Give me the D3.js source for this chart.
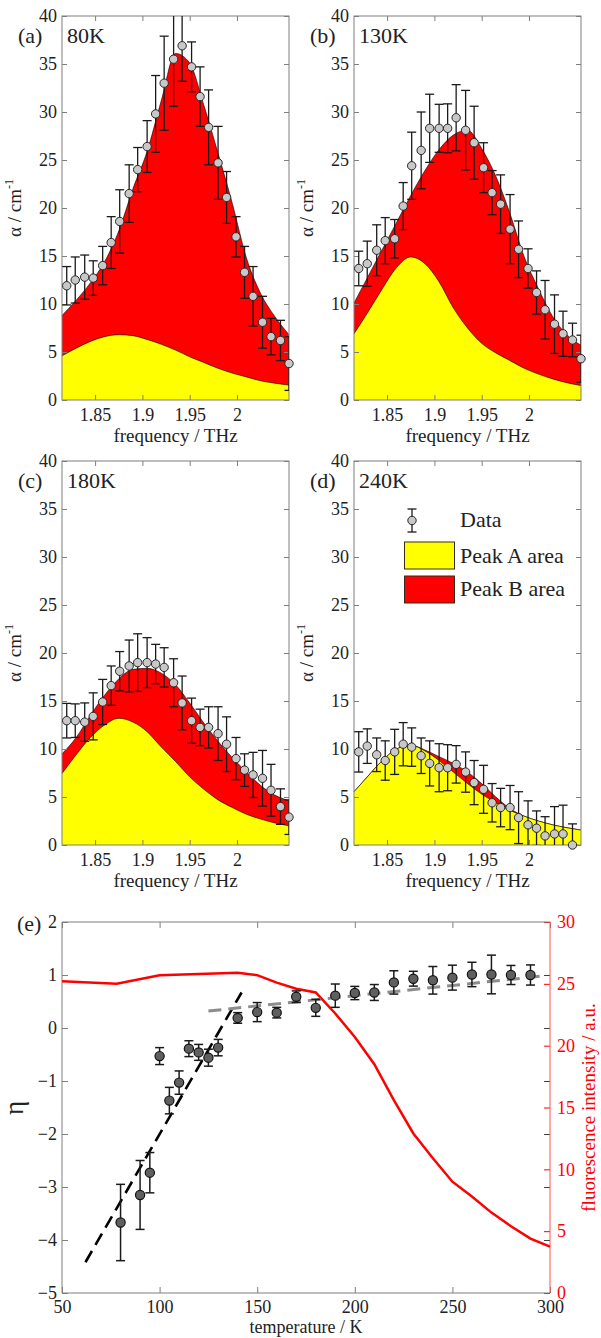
<!DOCTYPE html>
<html>
<head>
<meta charset="utf-8">
<script src="https://cdn.jsdelivr.net/npm/d3@7"></script>
<style>
  body { margin: 0; background: #fff; }
</style>
</head>
<body>
<svg id="chart" width="601" height="1338"></svg>
<script>
var FONT = '"Liberation Serif", "Times New Roman", serif';

// frequency grid of the measured points and of the fitted curves (THz)
var freq = [1.820, 1.829, 1.839, 1.848, 1.858, 1.867, 1.876, 1.886, 1.895, 1.905, 1.914, 1.923, 1.933,
            1.942, 1.952, 1.961, 1.970, 1.980, 1.989, 1.999, 2.008, 2.017, 2.027, 2.036, 2.046, 2.055];
var fitFreq = [1.815, 1.830, 1.845, 1.860, 1.875, 1.890, 1.905, 1.920, 1.935, 1.950, 1.965, 1.980,
               1.995, 2.010, 2.025, 2.040, 2.055];
var freqTicks = [1.85, 1.9, 1.95, 2];

// 80K
var alpha80 = [11.9, 12.5, 12.8, 12.7, 14.0, 16.4, 18.6, 21.5, 24.0, 26.4, 29.8, 33.0, 35.5,
               36.9, 34.7, 31.6, 28.4, 24.7, 21.1, 17.0, 13.3, 10.8, 8.1, 6.6, 6.2, 3.8];
var err80 = [2.0, 2.4, 2.3, 1.8, 2.0, 2.7, 3.3, 3.0, 2.3, 2.7, 4.0, 4.9, 4.9,
             3.7, 2.6, 3.1, 3.9, 3.8, 2.7, 2.1, 2.7, 3.1, 2.7, 1.9, 2.1, 2.8];
var total80 = [8.8, 10.4, 12.2, 14.4, 17.6, 22.0, 25.9, 31.2, 36.1, 35.1, 30.7, 25.7, 20.5, 14.8, 11.1, 8.7, 6.8];
var peakA80 = [4.6, 5.4, 6.1, 6.6, 6.8, 6.7, 6.3, 5.8, 5.2, 4.5, 3.9, 3.3, 2.8, 2.4, 2.0, 1.75, 1.55];

// 130K
var alpha130 = [13.7, 14.2, 15.6, 16.6, 16.8, 20.2, 24.4, 26.0, 28.3, 28.3, 28.3, 29.4, 28.1,
                26.8, 24.2, 21.6, 20.4, 17.8, 15.7, 13.7, 11.2, 9.4, 7.9, 6.9, 6.25, 4.3];
var err130 = [1.8, 2.35, 2.65, 2.4, 2.0, 2.45, 3.5, 4.0, 3.55, 2.5, 2.55, 3.45, 4.15,
              3.8, 2.6, 2.3, 3.05, 3.6, 2.95, 2.05, 2.25, 3.05, 3.05, 2.35, 1.75, 2.45];
var total130 = [10.1, 12.9, 15.7, 18.5, 21.3, 23.9, 26.1, 27.6, 28.1, 26.2, 23.3, 19.4, 14.9, 11.6, 8.7, 6.8, 5.7];
var peakA130 = [6.9, 9.2, 11.6, 13.8, 14.9, 14.2, 12.3, 9.6, 7.5, 5.9, 4.9, 4.1, 3.3, 2.7, 2.2, 1.8, 1.5];

// 180K
var alpha180 = [12.95, 12.95, 12.8, 13.4, 14.9, 16.6, 18.1, 18.65, 19.0, 19.0, 18.85, 18.5, 16.9,
                14.8, 12.95, 12.25, 12.25, 11.6, 10.5, 9.0, 7.8, 7.3, 6.95, 5.7, 4.0, 2.9];
var err180 = [1.8, 1.75, 2.0, 2.45, 2.35, 2.05, 2.05, 2.7, 3.0, 2.6, 2.05, 2.05, 2.5,
              2.8, 2.35, 1.9, 2.15, 2.8, 2.85, 2.2, 1.7, 2.35, 2.9, 2.7, 1.85, 1.8];
var total180 = [9.5, 11.2, 13.5, 15.6, 17.3, 18.3, 18.4, 17.9, 16.7, 14.8, 12.7, 10.8, 9.1, 7.6, 6.2, 5.2, 4.6];
var peakA180 = [7.45, 9.4, 11.2, 12.5, 13.2, 12.8, 11.8, 10.2, 8.7, 7.1, 5.8, 4.7, 3.9, 3.2, 2.7, 2.3, 2.0];

// 240K (no point at the last frequency)
var alpha240 = [9.7, 10.3, 9.4, 8.8, 9.7, 10.5, 10.2, 9.3, 8.5, 8.05, 8.05, 8.4, 7.6,
                6.5, 5.8, 4.4, 3.9, 3.9, 2.85, 2.1, 1.75, 0.95, 1.15, 1.15, 0.0];
var err240 = [2.1, 1.8, 1.75, 2.05, 2.35, 2.25, 2.0, 1.85, 2.35, 2.5, 2.4, 1.95, 2.1,
              2.3, 2.5, 2.0, 2.0, 2.3, 2.7, 2.5, 1.8, 2.0, 2.85, 3.0, 2.2];
var total240 = [5.55, 7.2, 8.8, 10.0, 10.4, 9.9, 9.2, 8.5, 7.6, 6.4, 5.0, 3.8, 3.0, 2.5, 2.1, 1.8, 1.55];
var peakA240 = [5.55, 7.2, 8.8, 10.0, 10.4, 9.8, 8.8, 7.6, 6.4, 5.3, 4.4, 3.6, 3.0, 2.5, 2.1, 1.8, 1.55];

// panel (e)
var tempEta = [80, 90, 95, 100, 105, 110, 115, 120, 125, 130, 140, 150, 160,
               170, 180, 190, 200, 210, 220, 230, 240, 250, 260, 270, 280, 290];
var eta = [-3.67, -3.15, -2.73, -0.53, -1.37, -1.03, -0.39, -0.46, -0.56, -0.37, 0.19, 0.30, 0.29,
           0.59, 0.38, 0.61, 0.66, 0.67, 0.86, 0.93, 0.90, 0.95, 1.01, 1.01, 1.00, 1.00];
var etaErr = [0.72, 0.65, 0.38, 0.16, 0.25, 0.22, 0.15, 0.15, 0.16, 0.155, 0.10, 0.18, 0.10,
              0.11, 0.16, 0.22, 0.125, 0.15, 0.22, 0.14, 0.26, 0.235, 0.23, 0.365, 0.18, 0.19];
var fluorTemp = [50, 78, 100, 140, 150, 160, 170, 180, 190, 200, 210, 220, 230, 240, 250, 260, 270, 280, 290, 300];
var fluor = [25.2, 25.0, 25.7, 25.9, 25.7, 25.1, 24.6, 24.3, 22.6, 20.7, 18.5, 15.6, 12.9, 10.9, 9.0, 7.8, 6.5, 5.4, 4.4, 3.75];
var fitLowT = [[62, -4.42], [142, 0.67]];
var fitHighT = [[125, 0.32], [296, 0.98]];

var svg = d3.select("#chart");

function styleAxis(g, color, textColor) {
    g.attr("font-family", FONT).attr("font-size", 18);
    g.select(".domain").remove();
    g.selectAll(".tick line").attr("stroke", color || "#7f7f7f");
    g.selectAll(".tick text").attr("fill", textColor || "#222");
}

function spectrum(box, d) {
    var x = d3.scaleLinear().domain([1.815, 2.055]).range([box.x0, box.x1]);
    var y = d3.scaleLinear().domain([0, 40]).range([box.y1, box.y0]);
    var g = svg.append("g");

    g.append("clipPath").attr("id", "clip" + d.tag)
        .append("rect").attr("x", box.x0).attr("y", box.y0)
        .attr("width", box.x1 - box.x0).attr("height", box.y1 - box.y0);

    var area = d3.area().x(function (v, i) { return x(fitFreq[i]); })
        .y0(y(0)).y1(function (v) { return y(v); }).curve(d3.curveMonotoneX);
    var line = d3.line().x(function (v, i) { return x(fitFreq[i]); })
        .y(function (v) { return y(v); }).curve(d3.curveMonotoneX);

    g.append("path").datum(d.total).attr("d", area).attr("fill", "#ff0000");
    g.append("path").datum(d.total).attr("d", line).attr("fill", "none")
        .attr("stroke", "#000").attr("stroke-width", 0.6);
    g.append("path").datum(d.peakA).attr("d", area).attr("fill", "#ffff00");
    g.append("path").datum(d.peakA).attr("d", line).attr("fill", "none")
        .attr("stroke", "#000").attr("stroke-width", 0.6);

    // axes with inward ticks on all four sides
    var ticksY = d3.range(0, 41, 5);
    g.append("g").attr("transform", "translate(" + box.x0 + ",0)")
        .call(d3.axisLeft(y).tickValues(ticksY).tickSize(-5).tickPadding(5))
        .call(styleAxis);
    g.append("g").attr("transform", "translate(" + box.x1 + ",0)")
        .call(d3.axisRight(y).tickValues(ticksY).tickSize(-5).tickFormat(""))
        .call(styleAxis);
    g.append("g").attr("transform", "translate(0," + box.y1 + ")")
        .call(d3.axisBottom(x).tickValues(freqTicks).tickSize(-5).tickPadding(8)
              .tickFormat(d3.format("")))
        .call(styleAxis);
    g.append("g").attr("transform", "translate(0," + box.y0 + ")")
        .call(d3.axisTop(x).tickValues(freqTicks).tickSize(-5).tickFormat(""))
        .call(styleAxis);
    g.append("rect").attr("x", box.x0).attr("y", box.y0)
        .attr("width", box.x1 - box.x0).attr("height", box.y1 - box.y0)
        .attr("fill", "none").attr("stroke", "#7f7f7f").attr("stroke-width", 1);

    // error bars
    var pts = d.alpha.map(function (v, i) { return {f: freq[i], v: v, e: d.err[i]}; });
    var eb = g.append("g").attr("clip-path", "url(#clip" + d.tag + ")")
        .attr("stroke", "#1a1a1a").attr("stroke-width", 1.3);
    eb.selectAll(".bar").data(pts).enter().append("line")
        .attr("x1", function (p) { return x(p.f); }).attr("x2", function (p) { return x(p.f); })
        .attr("y1", function (p) { return y(p.v - p.e); }).attr("y2", function (p) { return y(p.v + p.e); });
    ["lo", "hi"].forEach(function (side) {
        eb.selectAll(".cap" + side).data(pts).enter().append("line")
            .attr("x1", function (p) { return x(p.f) - 4.5; }).attr("x2", function (p) { return x(p.f) + 4.5; })
            .attr("y1", function (p) { return y(side === "lo" ? p.v - p.e : p.v + p.e); })
            .attr("y2", function (p) { return y(side === "lo" ? p.v - p.e : p.v + p.e); });
    });
    g.selectAll(".pt").data(pts).enter().append("circle")
        .attr("cx", function (p) { return x(p.f); }).attr("cy", function (p) { return y(p.v); })
        .attr("r", 4.2).attr("fill", "#c8c8c8").attr("stroke", "#262626").attr("stroke-width", 1);

    // labels
    g.append("text").attr("x", box.x0 - 44).attr("y", box.y0 + 27)
        .attr("font-family", FONT).attr("font-size", 22).attr("fill", "#222").text("(" + d.tag + ")");
    g.append("text").attr("x", box.x0 + 5).attr("y", box.y0 + 27)
        .attr("font-family", FONT).attr("font-size", 22).attr("fill", "#222").text(d.temp);
    g.append("text").attr("x", (box.x0 + box.x1) / 2).attr("y", box.y1 + 42)
        .attr("text-anchor", "middle").attr("font-family", FONT).attr("font-size", 19)
        .attr("fill", "#222").text("frequency / THz");
    var yl = g.append("text")
        .attr("transform", "translate(" + (box.x0 - 41) + "," + ((box.y0 + box.y1) / 2) + ") rotate(-90)")
        .attr("text-anchor", "middle").attr("font-family", FONT).attr("font-size", 19).attr("fill", "#222");
    yl.append("tspan").text("α / cm");
    yl.append("tspan").attr("font-size", 12).attr("dy", -8).text("-1");
}

spectrum({x0: 62, x1: 289, y0: 16, y1: 400},
         {tag: "a", temp: "80K", alpha: alpha80, err: err80, total: total80, peakA: peakA80});
spectrum({x0: 354, x1: 581, y0: 16, y1: 400},
         {tag: "b", temp: "130K", alpha: alpha130, err: err130, total: total130, peakA: peakA130});
spectrum({x0: 62, x1: 289, y0: 461, y1: 845},
         {tag: "c", temp: "180K", alpha: alpha180, err: err180, total: total180, peakA: peakA180});
spectrum({x0: 354, x1: 581, y0: 461, y1: 845},
         {tag: "d", temp: "240K", alpha: alpha240, err: err240, total: total240, peakA: peakA240});

// legend in panel (d)
var leg = svg.append("g").attr("font-family", FONT).attr("font-size", 22).attr("fill", "#222");
leg.append("line").attr("x1", 412).attr("x2", 412).attr("y1", 509).attr("y2", 532)
    .attr("stroke", "#1a1a1a").attr("stroke-width", 1.3);
[509, 532].forEach(function (yy) {
    leg.append("line").attr("x1", 407.5).attr("x2", 416.5).attr("y1", yy).attr("y2", yy)
        .attr("stroke", "#1a1a1a").attr("stroke-width", 1.3);
});
leg.append("circle").attr("cx", 412).attr("cy", 520.5).attr("r", 4.2)
    .attr("fill", "#c8c8c8").attr("stroke", "#262626");
leg.append("rect").attr("x", 404.5).attr("y", 542).attr("width", 50).attr("height", 27)
    .attr("fill", "#ffff00").attr("stroke", "#3a2a1a");
leg.append("rect").attr("x", 404.5).attr("y", 576).attr("width", 50).attr("height", 27)
    .attr("fill", "#ff0000").attr("stroke", "#3a2a1a");
leg.append("text").attr("x", 460).attr("y", 527).text("Data");
leg.append("text").attr("x", 460).attr("y", 563).text("Peak A area");
leg.append("text").attr("x", 460).attr("y", 596).text("Peak B area");

// panel (e)
(function () {
    var box = {x0: 62, x1: 550, y0: 922, y1: 1293};
    var x = d3.scaleLinear().domain([50, 300]).range([box.x0, box.x1]);
    var yL = d3.scaleLinear().domain([-5, 2]).range([box.y1, box.y0]);
    var yR = d3.scaleLinear().domain([0, 30]).range([box.y1, box.y0]);
    var g = svg.append("g");

    var tT = d3.range(50, 301, 50), tL = d3.range(-5, 3, 1), tR = d3.range(0, 31, 5);
    g.append("g").attr("transform", "translate(" + box.x0 + ",0)")
        .call(d3.axisLeft(yL).tickValues(tL).tickSize(-6).tickPadding(5).tickFormat(d3.format("d")))
        .call(styleAxis);
    g.append("g").attr("transform", "translate(" + box.x1 + ",0)")
        .call(d3.axisRight(yL).tickValues(tL).tickSize(-6).tickFormat("")).call(styleAxis, "#404040");
    g.append("g").attr("transform", "translate(0," + box.y1 + ")")
        .call(d3.axisBottom(x).tickValues(tT).tickSize(-6).tickPadding(7)).call(styleAxis);
    g.append("g").attr("transform", "translate(0," + box.y0 + ")")
        .call(d3.axisTop(x).tickValues(tT).tickSize(-6).tickFormat("")).call(styleAxis);
    g.append("g").attr("transform", "translate(" + box.x1 + ",0)")
        .call(d3.axisRight(yR).tickValues(tR).tickSize(-6).tickPadding(7))
        .call(styleAxis, "#ff0000", "#ff0000");

    g.append("path").attr("d", "M" + box.x1 + "," + box.y1 + "H" + box.x0 + "V" + box.y0 + "H" + box.x1)
        .attr("fill", "none").attr("stroke", "#7f7f7f");
    g.append("line").attr("x1", box.x1).attr("x2", box.x1).attr("y1", box.y0).attr("y2", box.y1)
        .attr("stroke", "#ff5050").attr("stroke-width", 1);

    // fluorescence intensity
    g.append("path").datum(fluor)
        .attr("d", d3.line().x(function (v, i) { return x(fluorTemp[i]); }).y(function (v) { return yR(v); }))
        .attr("fill", "none").attr("stroke", "#ff0000").attr("stroke-width", 2.5);

    // linear fits
    var fitLine = d3.line().x(function (p) { return x(p[0]); }).y(function (p) { return yL(p[1]); });
    g.append("path").datum(fitLowT).attr("d", fitLine).attr("fill", "none")
        .attr("stroke", "#000").attr("stroke-width", 2.6).attr("stroke-dasharray", "13,7");
    g.append("path").datum(fitHighT).attr("d", fitLine).attr("fill", "none")
        .attr("stroke", "#8c8c8c").attr("stroke-width", 3).attr("stroke-dasharray", "13,7");

    var pts = eta.map(function (v, i) { return {t: tempEta[i], v: v, e: etaErr[i]}; });
    var eb = g.append("g").attr("stroke", "#1a1a1a").attr("stroke-width", 1.5);
    eb.selectAll(".bar").data(pts).enter().append("line")
        .attr("x1", function (p) { return x(p.t); }).attr("x2", function (p) { return x(p.t); })
        .attr("y1", function (p) { return yL(p.v - p.e); }).attr("y2", function (p) { return yL(p.v + p.e); });
    ["lo", "hi"].forEach(function (side) {
        eb.selectAll(".cap" + side).data(pts).enter().append("line")
            .attr("x1", function (p) { return x(p.t) - 4.5; }).attr("x2", function (p) { return x(p.t) + 4.5; })
            .attr("y1", function (p) { return yL(side === "lo" ? p.v - p.e : p.v + p.e); })
            .attr("y2", function (p) { return yL(side === "lo" ? p.v - p.e : p.v + p.e); });
    });
    g.selectAll(".pt").data(pts).enter().append("circle")
        .attr("cx", function (p) { return x(p.t); }).attr("cy", function (p) { return yL(p.v); })
        .attr("r", 4.6).attr("fill", "#5f5f5f").attr("stroke", "#111").attr("stroke-width", 1.2);

    g.append("text").attr("x", 17).attr("y", 931).attr("font-family", FONT).attr("font-size", 22)
        .attr("fill", "#222").text("(e)");
    g.append("text").attr("transform", "translate(14,1108) rotate(-90)").attr("text-anchor", "middle")
        .attr("dy", "0.35em").attr("font-family", FONT).attr("font-size", 27).attr("fill", "#222").text("η");
    g.append("text").attr("x", (box.x0 + box.x1) / 2).attr("y", 1333).attr("text-anchor", "middle")
        .attr("font-family", FONT).attr("font-size", 18).attr("fill", "#222").text("temperature / K");
    g.append("text").attr("transform", "translate(588," + ((box.y0 + box.y1) / 2) + ") rotate(-90)")
        .attr("text-anchor", "middle").attr("dy", "0.35em").attr("font-family", FONT).attr("font-size", 19)
        .attr("fill", "#ff0000").text("fluorescence intensity / a.u.");
})();
</script>
</body>
</html>
